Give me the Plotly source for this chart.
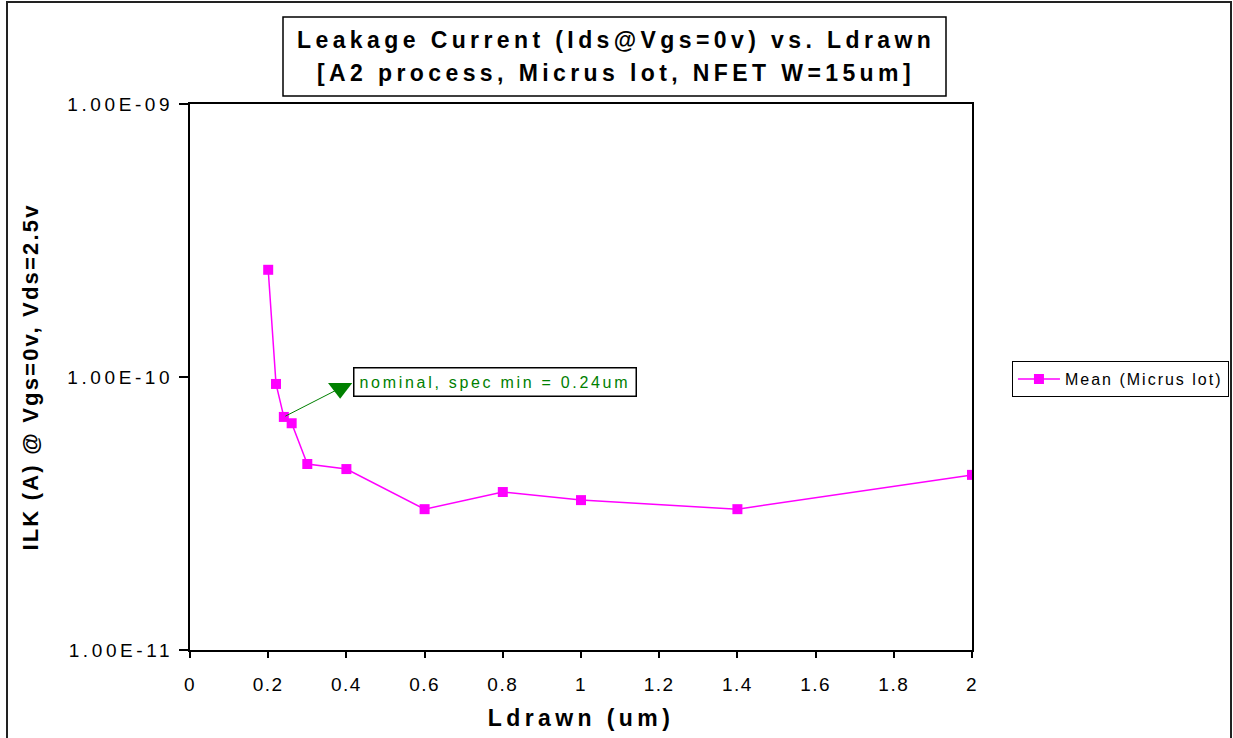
import math
import plotly.graph_objects as go

# ---- data ----
ldrawn_um = [0.2, 0.22, 0.24, 0.26, 0.3, 0.4, 0.6, 0.8, 1.0, 1.4, 2.0]
ilk_mean_a = [2.47e-10, 9.43e-11, 7.14e-11, 6.77e-11, 4.80e-11, 4.60e-11,
              3.28e-11, 3.79e-11, 3.54e-11, 3.28e-11, 4.38e-11]
series_name = "Mean (Micrus lot)"

x_tick_vals = [0, 0.2, 0.4, 0.6, 0.8, 1.0, 1.2, 1.4, 1.6, 1.8, 2.0]
x_tick_text = ["0", "0.2", "0.4", "0.6", "0.8", "1", "1.2", "1.4", "1.6", "1.8", "2"]
y_tick_vals = [1e-11, 1e-10, 1e-9]
y_tick_text = ["1.00E-11", "1.00E-10", "1.00E-09"]

title_line1 = "Leakage Current (Ids@Vgs=0v) vs. Ldrawn"
title_line2 = "[A2 process, Micrus lot, NFET W=15um]"
x_title = "Ldrawn (um)"
y_title = "ILK (A) @ Vgs=0v, Vds=2.5v"
note_text = "nominal, spec min = 0.24um"
note_index = 2            # the 0.24um point
note_head = (0.384, 9.1e-11)
note_box = (0.417, 9.55e-11)

FONT = "Liberation Sans, Arial, sans-serif"
MAGENTA = "#FF00FF"
GREEN = "#008000"


def sp(text, px):
    return f'<span style="letter-spacing:{px}px">{text}</span>'


fig = go.Figure()

fig.add_trace(go.Scatter(
    x=ldrawn_um, y=ilk_mean_a, mode="lines+markers",
    name=sp(series_name, 2.0),
    line=dict(color=MAGENTA, width=1.5),
    marker=dict(symbol="square", size=10, color=MAGENTA),
))

# arrow head of the note
fig.add_trace(go.Scatter(
    x=[note_head[0]], y=[note_head[1]], mode="markers", showlegend=False,
    hoverinfo="skip",
    marker=dict(symbol="triangle-down", size=21, color=GREEN),
))

fig.update_layout(
    width=1233, height=738,
    margin=dict(l=190, r=261, t=104, b=88, autoexpand=False),
    paper_bgcolor="white", plot_bgcolor="white",
    font=dict(family=FONT, color="black"),
    showlegend=True,
    legend=dict(
        x=1.0511, y=0.496, xanchor="left", yanchor="middle",
        bordercolor="black", borderwidth=1, bgcolor="white",
        font=dict(size=16, family=FONT), itemwidth=42,
    ),
)

fig.update_xaxes(
    range=[0, 2], tickmode="array", tickvals=x_tick_vals,
    ticktext=[sp(t, 1.5) for t in x_tick_text],
    ticks="outside", ticklen=6, tickwidth=1.5, tickcolor="black",
    showline=True, linewidth=2, linecolor="black", mirror=True,
    showgrid=False, zeroline=False, automargin=False,
    tickfont=dict(size=19, family=FONT), ticklabelstandoff=10,
    title=dict(text=sp(f"<b>{x_title}</b>", 4.4), font=dict(size=23, family=FONT), standoff=16),
)
fig.update_yaxes(
    type="log", range=[-11, -9], tickmode="array", tickvals=y_tick_vals,
    ticktext=[sp(t, 3.6) for t in y_tick_text],
    ticks="outside", ticklen=9, tickwidth=2, tickcolor="black",
    showline=True, linewidth=2, linecolor="black", mirror=True,
    showgrid=False, zeroline=False, automargin=False,
    tickfont=dict(size=19, family=FONT), ticklabelstandoff=2,
    title=dict(text=sp(f"<b>{y_title}</b>", 2.2), font=dict(size=22, family=FONT), standoff=23),
)

# note: arrow line from the 0.24um point to the head
fig.add_annotation(
    x=note_head[0], y=math.log10(note_head[1]), xref="x", yref="y",
    ax=ldrawn_um[note_index], ay=math.log10(ilk_mean_a[note_index]),
    axref="x", ayref="y", text="", showarrow=True, arrowhead=0,
    arrowwidth=1, arrowcolor=GREEN, standoff=0, startstandoff=0,
)
fig.add_annotation(
    x=note_box[0], y=math.log10(note_box[1]), xref="x", yref="y",
    xanchor="left", yanchor="middle", showarrow=False,
    text=sp(note_text, 2.7), font=dict(size=16, family=FONT, color=GREEN),
    bordercolor="black", borderwidth=1.5, borderpad=5, bgcolor="white",
)

# title box and lines
def px_x(px):
    return (px - 190) / 782


def px_y(px):
    return (650 - px) / 546


fig.add_shape(type="rect", xref="paper", yref="paper",
              x0=px_x(283), x1=px_x(946), y0=px_y(96), y1=px_y(17),
              line=dict(color="black", width=1.5), fillcolor="white", layer="above")
fig.add_annotation(x=px_x(616), y=px_y(40), xref="paper", yref="paper",
                   xanchor="center", yanchor="middle", showarrow=False,
                   text=sp(f"<b>{title_line1}</b>", 4.4), font=dict(size=23, family=FONT))
fig.add_annotation(x=px_x(616), y=px_y(73), xref="paper", yref="paper",
                   xanchor="center", yanchor="middle", showarrow=False,
                   text=sp(f"<b>{title_line2}</b>", 4.4), font=dict(size=23, family=FONT))

# outer chart border
fig.add_shape(type="rect", xref="paper", yref="paper",
              x0=px_x(7), x1=px_x(1231), y0=px_y(745), y1=px_y(2),
              line=dict(color="#222222", width=2), layer="below")

fig.write_html("out.html")
